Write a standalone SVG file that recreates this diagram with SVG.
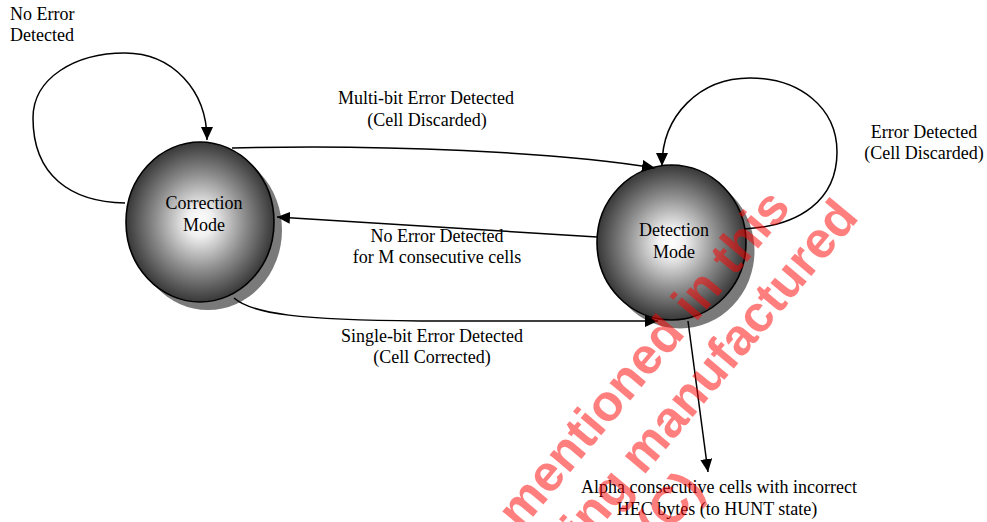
<svg xmlns="http://www.w3.org/2000/svg" width="987" height="522" viewBox="0 0 987 522">
<defs>
<radialGradient id="ball" cx="50%" cy="50%" r="50%">
<stop offset="0" stop-color="#ffffff"/>
<stop offset="0.18" stop-color="#f0f0f0"/>
<stop offset="0.6" stop-color="#8e8e8e"/>
<stop offset="1" stop-color="#383838"/>
</radialGradient>
<marker id="arr" markerUnits="userSpaceOnUse" markerWidth="14" markerHeight="12" refX="13" refY="6" orient="auto">
<path d="M0,0 L13,6 L0,12 z" fill="#000"/>
</marker>
<style>
.t{font-family:"Liberation Serif","Times New Roman",serif;font-size:18px;fill:#000}
.c{text-anchor:middle}
.e{fill:none;stroke:#000;stroke-width:1.5}
.shadow{fill:#7a7a7a}
.node{fill:url(#ball);stroke:#000;stroke-width:1.6}
.wm{font-family:"Liberation Sans",Arial,sans-serif;font-weight:bold;font-size:51px;fill:#ff0000;fill-opacity:0.5}
</style>
</defs>
<rect width="987" height="522" fill="#fff"/>
<g id="correction">
<ellipse class="shadow" cx="208" cy="230" rx="74" ry="80"/>
<ellipse class="node" cx="200" cy="222" rx="74" ry="80"/>
<text class="t c" x="204" y="209">Correction</text>
<text class="t c" x="204" y="231">Mode</text>
</g>
<g id="detection">
<ellipse class="shadow" cx="680" cy="251" rx="74.5" ry="77.5"/>
<ellipse class="node" cx="671.5" cy="242.5" rx="74.5" ry="77.5"/>
<text class="t c" x="674" y="236">Detection</text>
<text class="t c" x="674" y="258">Mode</text>
</g>
<g id="connectors">
<path class="e" marker-end="url(#arr)" d="M125,203 C70,202 33,175 33,118 C33,78 75,53 125,53 C172,53 207,90 207,140"/>
<path class="e" marker-end="url(#arr)" d="M232,148 C380,144 560,152 655,168"/>
<path class="e" marker-end="url(#arr)" d="M597,237 L277,217"/>
<path class="e" marker-end="url(#arr)" d="M234,298 C252,314 300,320 420,321 L658,321"/>
<path class="e" marker-end="url(#arr)" d="M744,229 C800,226 837,200 837,152 C837,108 800,78 750,78 C700,78 662,115 662,166"/>
<path class="e" marker-end="url(#arr)" d="M688,321 L708,472"/>
</g>
<g id="labels">
<text class="t" x="10" y="20">No Error</text>
<text class="t" x="10" y="41">Detected</text>
<text class="t c" x="426" y="104">Multi-bit Error Detected</text>
<text class="t c" x="427" y="126">(Cell Discarded)</text>
<text class="t c" x="924" y="138">Error Detected</text>
<text class="t c" x="924" y="159">(Cell Discarded)</text>
<text class="t c" x="437" y="242">No Error Detected</text>
<text class="t c" x="437" y="263">for M consecutive cells</text>
<text class="t c" x="432" y="342">Single-bit Error Detected</text>
<text class="t c" x="432" y="363">(Cell Corrected)</text>
<text class="t c" x="719" y="493">Alpha consecutive cells with incorrect</text>
<text class="t c" x="717" y="515">HEC bytes (to HUNT state)</text>
</g>
<g id="watermark">
<text class="wm" text-anchor="end" transform="translate(792,208) rotate(-50)">mentioned in this</text>
<text class="wm" text-anchor="end" transform="translate(860,218) rotate(-50)">ing manufactured</text>
<text class="wm" text-anchor="start" transform="translate(660,544) rotate(-50)">(C)</text>
</g>
</svg>
